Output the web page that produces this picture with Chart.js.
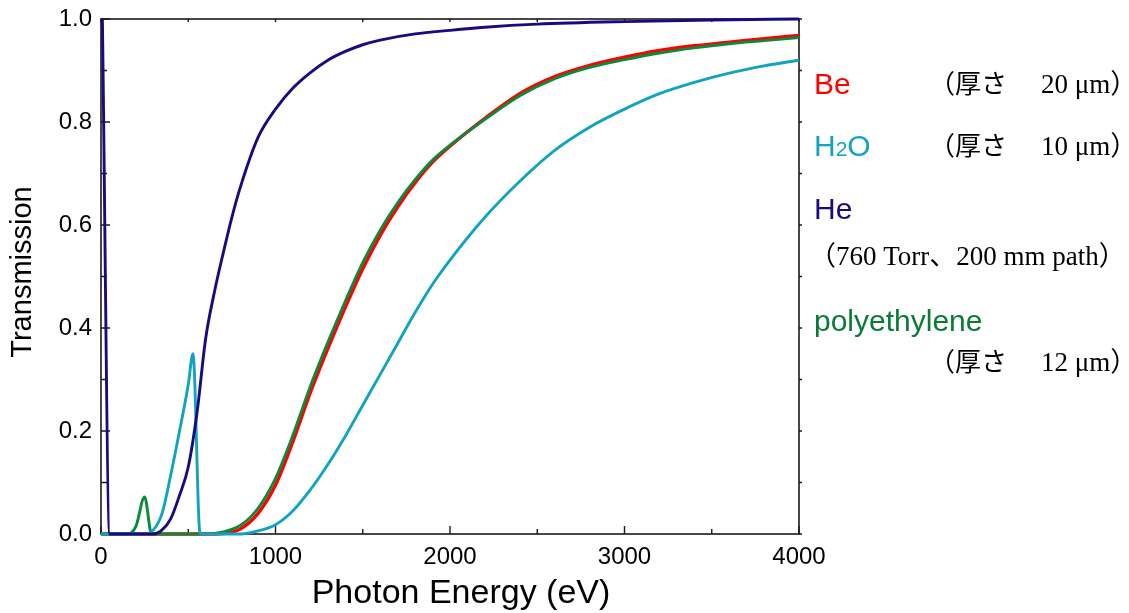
<!DOCTYPE html>
<html>
<head>
<meta charset="utf-8">
<script src="https://cdn.jsdelivr.net/npm/chart.js@4.4.1/dist/chart.umd.min.js"></script>
<style>
  html, body { margin: 0; padding: 0; background: #fff; }
  #wrap { position: relative; width: 1129px; height: 613px; overflow: hidden; }
  #c { position: absolute; left: 0; top: 0; }
  .lbl { position: absolute; white-space: nowrap; transform: translateY(-50%); line-height: 1; }
  .sans { font-family: "Liberation Sans", Arial, sans-serif; font-size: 30px; }
  .ser { font-family: "Liberation Serif", "Noto Sans CJK JP", serif; font-size: 26px; color: #000; }
  .num { font-size: 27px; margin-left: 8px; }
  .sub { font-size: 21px; }
</style>
</head>
<body>
<div id="wrap">
  <canvas id="c" width="1129" height="613"></canvas>
  <div class="lbl sans" style="left:814px; top:84px; color:#ff0000;">Be</div>
  <div class="lbl ser" style="left:929px; top:84px;">（厚さ　<span class="num">20 μm）</span></div>
  <div class="lbl sans" style="left:814px; top:146px; color:#12a3c0;">H<span class="sub">2</span>O</div>
  <div class="lbl ser" style="left:929px; top:146px;">（厚さ　<span class="num">10 μm）</span></div>
  <div class="lbl sans" style="left:814px; top:209px; color:#160c80;">He</div>
  <div class="lbl ser" style="left:809px; top:256px; font-size:27px;">（760 Torr、200 mm path）</div>
  <div class="lbl sans" style="left:814px; top:321px; color:#0b7a35;">polyethylene</div>
  <div class="lbl ser" style="left:929px; top:362px;">（厚さ　<span class="num">12 μm）</span></div>
</div>
<script>
// ---- data ----
const xTicks = [0, 1000, 2000, 3000, 4000];
const yTicks = [0.0, 0.2, 0.4, 0.6, 0.8, 1.0];

const energyBe = [0, 600, 700, 800, 900, 1000, 1100, 1200, 1300, 1400, 1500, 1600, 1700, 1800, 1900, 2000, 2200, 2400, 2600, 2800, 3000, 3200, 3400, 3600, 3800, 4000];
const transBe  = [0, 0, 0.001, 0.01, 0.04, 0.095, 0.18, 0.275, 0.36, 0.44, 0.515, 0.58, 0.635, 0.682, 0.722, 0.753, 0.807, 0.855, 0.888, 0.91, 0.926, 0.939, 0.948, 0.955, 0.962, 0.968];

const energyPE = [0, 150, 200, 250, 290, 600, 700, 800, 900, 1000, 1100, 1200, 1300, 1400, 1500, 1600, 1700, 1800, 1900, 2000, 2200, 2400, 2600, 2800, 3000, 3200, 3400, 3600, 3800, 4000];
const transPE  = [0, 0, 0.015, 0.072, 0, 0, 0.004, 0.017, 0.05, 0.108, 0.192, 0.287, 0.372, 0.452, 0.527, 0.59, 0.643, 0.688, 0.726, 0.755, 0.805, 0.851, 0.884, 0.906, 0.921, 0.934, 0.944, 0.952, 0.958, 0.964];

const energyH2O = [0, 250, 300, 350, 400, 450, 500, 527, 568, 800, 900, 1000, 1100, 1200, 1300, 1400, 1500, 1600, 1700, 1800, 1900, 2000, 2200, 2400, 2600, 2800, 3000, 3200, 3400, 3600, 3800, 4000];
const transH2O  = [0, 0, 0.008, 0.04, 0.115, 0.2, 0.29, 0.35, 0, 0, 0.006, 0.018, 0.045, 0.086, 0.135, 0.19, 0.25, 0.31, 0.37, 0.43, 0.485, 0.532, 0.615, 0.685, 0.745, 0.79, 0.825, 0.855, 0.877, 0.895, 0.909, 0.92];

const energyHe = [8, 50, 300, 350, 400, 450, 500, 550, 600, 650, 700, 750, 800, 900, 1000, 1100, 1200, 1300, 1400, 1500, 1600, 1800, 2000, 2200, 2500, 3000, 3500, 4000];
const transHe  = [1.0, 0, 0, 0.008, 0.03, 0.075, 0.13, 0.235, 0.38, 0.47, 0.545, 0.615, 0.675, 0.77, 0.825, 0.866, 0.896, 0.92, 0.937, 0.95, 0.959, 0.971, 0.978, 0.984, 0.99, 0.995, 0.998, 1.0];

const seriesNames = ['He', 'H2O', 'polyethylene', 'Be'];
const seriesColors = ['#160c80', '#12a3c0', '#0b8a3c', '#ff0000'];

function pts(xs, ys) { return xs.map((x, i) => ({ x: x, y: ys[i] })); }

const PLOT = { left: 101, right: 799, top: 19, bottom: 534 };
const W = 1129, H = 613;

const framePlugin = {
  id: 'frame',
  beforeDatasetsDraw(chart) {
    const ctx = chart.ctx;
    const xs = chart.scales.x, ys = chart.scales.y;
    const a = chart.chartArea;
    ctx.save();
    ctx.strokeStyle = '#1a1a1a';
    ctx.lineWidth = 1.6;
    ctx.strokeRect(a.left, a.top, a.right - a.left, a.bottom - a.top);
    ctx.lineWidth = 1.4;
    ctx.beginPath();
    for (let v = 0; v <= 4000; v += 500) {
      const px = xs.getPixelForValue(v);
      const len = (v % 1000 === 0) ? 8 : 5;
      ctx.moveTo(px, a.bottom); ctx.lineTo(px, a.bottom - len);
      ctx.moveTo(px, a.top); ctx.lineTo(px, a.top + 3);
    }
    for (let k = 0; k <= 10; k++) {
      const py = ys.getPixelForValue(k / 10);
      const len = (k % 2 === 0) ? 9 : 6;
      ctx.moveTo(a.left, py); ctx.lineTo(a.left + len, py);
      ctx.moveTo(a.right, py); ctx.lineTo(a.right + 3, py);
    }
    ctx.stroke();
    ctx.restore();
  },
  afterDraw(chart) {
    const ctx = chart.ctx;
    ctx.save();
    ctx.fillStyle = '#000';
    ctx.textAlign = 'center';
    ctx.textBaseline = 'middle';
    ctx.font = '34px "Liberation Sans", Arial, sans-serif';
    ctx.fillText('Photon Energy (eV)', 461, 594);
    ctx.translate(23, 272);
    ctx.rotate(-Math.PI / 2);
    ctx.font = '29px "Liberation Sans", Arial, sans-serif';
    ctx.fillText('Transmission', 0, 0);
    ctx.restore();
  }
};

Chart.defaults.font.family = '"Liberation Sans", Arial, sans-serif';
Chart.defaults.color = '#000';

const datasets = [
  pts(energyHe, transHe),
  pts(energyH2O, transH2O),
  pts(energyPE, transPE),
  pts(energyBe, transBe)
].map((d, i) => ({
  label: seriesNames[i],
  data: d,
  borderColor: seriesColors[i],
  backgroundColor: seriesColors[i],
  borderWidth: i === 3 ? 3.4 : 2.9,
  pointRadius: 0,
  fill: false,
  cubicInterpolationMode: 'monotone',
  clip: 6
}));

new Chart(document.getElementById('c'), {
  type: 'line',
  data: { datasets: datasets },
  options: {
    responsive: false,
    animation: false,
    devicePixelRatio: 1,
    layout: { padding: { left: 0, top: PLOT.top, right: W - PLOT.right, bottom: 0 } },
    plugins: { legend: { display: false }, tooltip: { enabled: false }, title: { display: false } },
    scales: {
      x: {
        type: 'linear', min: 0, max: 4000,
        afterBuildTicks: (s) => { s.ticks = xTicks.map(v => ({ value: v })); },
        ticks: { font: { size: 24 }, padding: 9, maxRotation: 0, callback: (v) => String(v) },
        grid: { display: false, drawTicks: false },
        border: { display: false },
        afterFit: (s) => { s.height = H - PLOT.bottom; s.paddingLeft = 0; s.paddingRight = 0; }
      },
      y: {
        type: 'linear', min: 0, max: 1,
        afterBuildTicks: (s) => { s.ticks = yTicks.map(v => ({ value: v })); },
        ticks: { font: { size: 24 }, padding: 9, callback: (v) => Number(v).toFixed(1) },
        grid: { display: false, drawTicks: false },
        border: { display: false },
        afterFit: (s) => { s.width = PLOT.left; s.paddingTop = 0; s.paddingBottom = 0; }
      }
    }
  },
  plugins: [framePlugin]
});
</script>
</body>
</html>
